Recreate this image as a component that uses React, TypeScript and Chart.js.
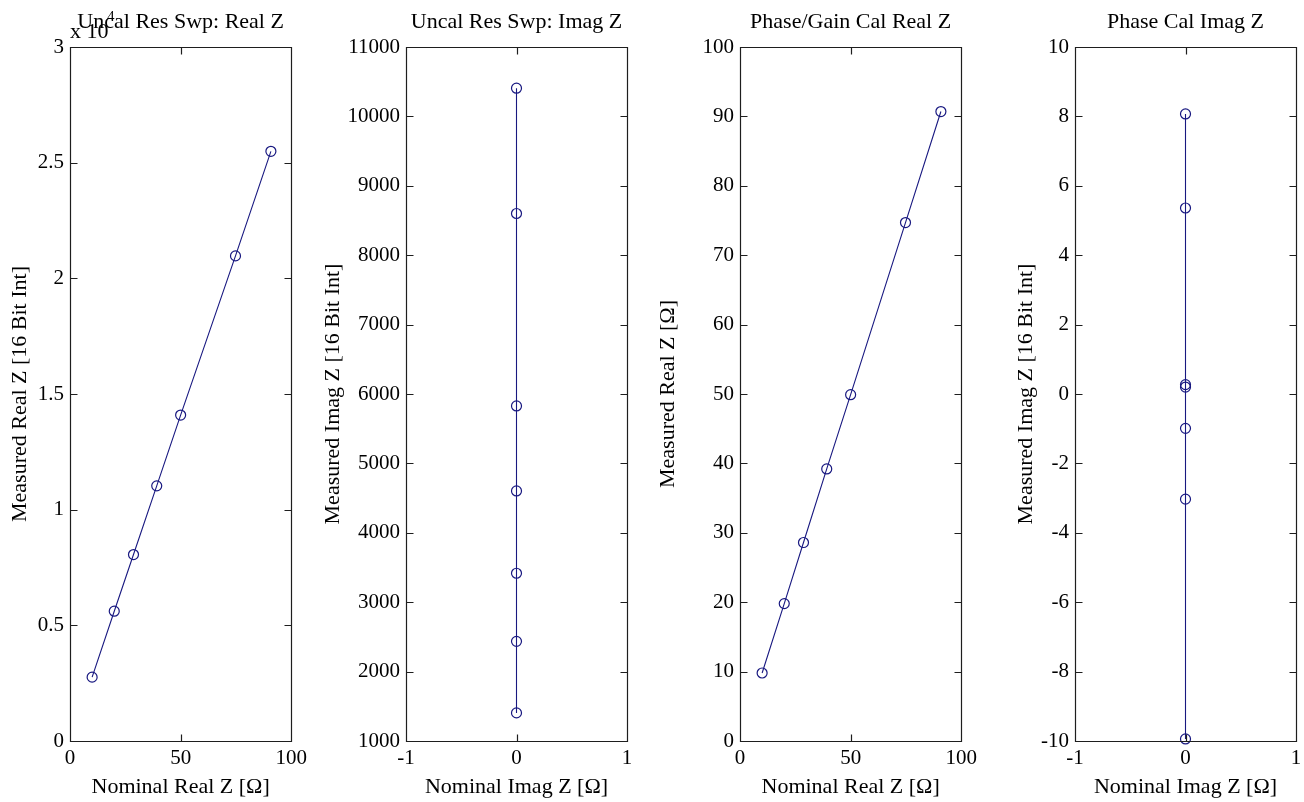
import React, { useEffect, useRef } from 'react';
import { Chart, registerables } from 'chart.js';

Chart.register(...registerables);

// ---------- data ----------
const nominalReal = [10, 20, 28.7, 39.2, 50, 74.8, 90.8];
const nominalImag = [0, 0, 0, 0, 0, 0, 0];
const uncalRealZ = [2760, 5610, 8060, 11030, 14090, 20970, 25490];
const uncalImagZ = [1405, 2436, 3417, 4603, 5828, 8601, 10406];
const calRealZ = [9.8, 19.8, 28.6, 39.2, 49.9, 74.7, 90.7];
const calImagZ = [-9.94, -3.03, -0.99, 0.2, 0.27, 5.36, 8.07];

const realXTicks = [0, 50, 100];
const imagXTicks = [-1, 0, 1];
const uncalRealYTicks = [0, 5000, 10000, 15000, 20000, 25000, 30000];
const uncalImagYTicks = [1000, 2000, 3000, 4000, 5000, 6000, 7000, 8000, 9000, 10000, 11000];
const calRealYTicks = [0, 10, 20, 30, 40, 50, 60, 70, 80, 90, 100];
const calImagYTicks = [-10, -8, -6, -4, -2, 0, 2, 4, 6, 8, 10];

const titles = [
  'Uncal Res Swp: Real Z',
  'Uncal Res Swp: Imag Z',
  'Phase/Gain Cal Real Z',
  'Phase Cal Imag Z',
];
const xLabels = ['Nominal Real Z [Ω]', 'Nominal Imag Z [Ω]', 'Nominal Real Z [Ω]', 'Nominal Imag Z [Ω]'];
const yLabels = [
  'Measured Real Z [16 Bit Int]',
  'Measured Imag Z [16 Bit Int]',
  'Measured Real Z [Ω]',
  'Measured Imag Z [16 Bit Int]',
];
const exponentPower = 4;

// ---------- layout / style ----------
const FONT = "'Liberation Serif', 'Times New Roman', Times, serif";
const LINE_COLOR = 'rgb(24, 24, 128)';
const H = 802;
const TOP = 47;
const X_AXIS_H = 61;
const LABEL_SIZE = 22;
const TICK_SIZE = 21;

type Layout = { plotLeft: number; plotRight: number; yTitleX: number };
const layouts: Layout[] = [
  { plotLeft: 70, plotRight: 292, yTitleX: 20 },
  { plotLeft: 406, plotRight: 627, yTitleX: 333 },
  { plotLeft: 740, plotRight: 962, yTitleX: 668 },
  { plotLeft: 1075, plotRight: 1296, yTitleX: 1026 },
];

type PanelDef = {
  title: string;
  xLabel: string;
  yLabel: string;
  xs: number[];
  ys: number[];
  xTicks: number[];
  yTicks: number[];
  yDiv: number;
  exponent: number | null;
  layout: Layout;
};

const panels: PanelDef[] = [
  { title: titles[0], xLabel: xLabels[0], yLabel: yLabels[0], xs: nominalReal, ys: uncalRealZ, xTicks: realXTicks, yTicks: uncalRealYTicks, yDiv: 10 ** exponentPower, exponent: exponentPower, layout: layouts[0] },
  { title: titles[1], xLabel: xLabels[1], yLabel: yLabels[1], xs: nominalImag, ys: uncalImagZ, xTicks: imagXTicks, yTicks: uncalImagYTicks, yDiv: 1, exponent: null, layout: layouts[1] },
  { title: titles[2], xLabel: xLabels[2], yLabel: yLabels[2], xs: nominalReal, ys: calRealZ, xTicks: realXTicks, yTicks: calRealYTicks, yDiv: 1, exponent: null, layout: layouts[2] },
  { title: titles[3], xLabel: xLabels[3], yLabel: yLabels[3], xs: nominalImag, ys: calImagZ, xTicks: imagXTicks, yTicks: calImagYTicks, yDiv: 1, exponent: null, layout: layouts[3] },
];

const panelText = {
  id: 'panelText',
  afterDraw(chart: any, _args: any, opts: any) {
    const { ctx, chartArea } = chart;
    ctx.save();
    ctx.fillStyle = '#000';
    ctx.textBaseline = 'alphabetic';
    if (opts.exponent != null) {
      ctx.textAlign = 'left';
      ctx.font = `${LABEL_SIZE}px ${FONT}`;
      ctx.fillText('x 10', chartArea.left, 38);
      ctx.font = `15px ${FONT}`;
      ctx.fillText(String(opts.exponent), chartArea.left + 37, 21);
    }
    ctx.textAlign = 'center';
    ctx.font = `${LABEL_SIZE}px ${FONT}`;
    ctx.fillText(opts.title, (chartArea.left + chartArea.right) / 2, 27.5);
    ctx.restore();
  },
};

const boxTicks = {
  id: 'boxTicks',
  afterDatasetsDraw(chart: any) {
    const { ctx, chartArea } = chart;
    const xs = chart.scales.x;
    const ys = chart.scales.y;
    const L = Math.round(chartArea.left) + 0.5;
    const R = Math.round(chartArea.right) + 0.5;
    const T = Math.round(chartArea.top) + 0.5;
    const B = Math.round(chartArea.bottom) + 0.5;
    const len = 7;
    ctx.save();
    ctx.strokeStyle = '#1e1e1e';
    ctx.lineWidth = 1.2;
    ctx.beginPath();
    ctx.rect(L, T, R - L, B - T);
    xs.ticks.forEach((t: any) => {
      const px = Math.round(xs.getPixelForValue(t.value)) + 0.5;
      ctx.moveTo(px, B);
      ctx.lineTo(px, B - len);
      ctx.moveTo(px, T);
      ctx.lineTo(px, T + len);
    });
    ys.ticks.forEach((t: any) => {
      const py = Math.round(ys.getPixelForValue(t.value)) + 0.5;
      ctx.moveTo(L, py);
      ctx.lineTo(L + len, py);
      ctx.moveTo(R, py);
      ctx.lineTo(R - len, py);
    });
    ctx.stroke();
    ctx.restore();
  },
};

function Panel({ def }: { def: PanelDef }) {
  const ref = useRef<HTMLCanvasElement>(null);
  const { layout } = def;
  const canvasLeft = layout.yTitleX - 15;
  const yAxisW = layout.plotLeft - canvasLeft;
  const rightPad = 20;
  const width = layout.plotRight + rightPad - canvasLeft;
  const yTitleLH = LABEL_SIZE * 1.2;

  useEffect(() => {
    if (!ref.current) return;
    const data = def.xs.map((x, i) => ({ x, y: def.ys[i] }));
    const chart = new Chart(ref.current, {
      type: 'scatter',
      data: {
        datasets: [
          {
            data,
            showLine: true,
            borderColor: LINE_COLOR,
            borderWidth: 1.1,
            pointStyle: 'circle',
            pointRadius: 5,
            pointBorderWidth: 1.2,
            pointBorderColor: LINE_COLOR,
            pointBackgroundColor: 'rgba(0,0,0,0)',
            clip: false as any,
          },
        ],
      },
      options: {
        responsive: false,
        animation: false,
        devicePixelRatio: 1,
        layout: { padding: { top: TOP, bottom: 0, left: 0, right: rightPad } },
        plugins: {
          legend: { display: false },
          tooltip: { enabled: false },
          title: { display: false },
          panelText: { title: def.title, exponent: def.exponent },
        } as any,
        scales: {
          x: {
            type: 'linear',
            min: def.xTicks[0],
            max: def.xTicks[def.xTicks.length - 1],
            grid: { display: false, drawTicks: false },
            border: { display: false },
            afterBuildTicks: (s: any) => {
              s.ticks = def.xTicks.map((v) => ({ value: v }));
            },
            afterFit: (s: any) => {
              s.height = X_AXIS_H;
            },
            ticks: {
              padding: 5,
              color: '#000',
              font: { family: FONT, size: TICK_SIZE },
              maxRotation: 0,
              autoSkip: false,
              callback: (v: any) => String(v),
            },
            title: {
              display: true,
              text: def.xLabel,
              color: '#000',
              font: { family: FONT, size: LABEL_SIZE },
              padding: { top: 0, bottom: 1.8 },
            },
          },
          y: {
            type: 'linear',
            min: def.yTicks[0],
            max: def.yTicks[def.yTicks.length - 1],
            grid: { display: false, drawTicks: false },
            border: { display: false },
            afterBuildTicks: (s: any) => {
              s.ticks = def.yTicks.map((v) => ({ value: v }));
            },
            afterFit: (s: any) => {
              s.width = yAxisW;
            },
            ticks: {
              padding: 6,
              color: '#000',
              font: { family: FONT, size: TICK_SIZE },
              autoSkip: false,
              callback: (v: any) => String(Math.round((Number(v) / def.yDiv) * 1000) / 1000),
            },
            title: {
              display: true,
              text: def.yLabel,
              color: '#000',
              font: { family: FONT, size: LABEL_SIZE },
              padding: { top: 15 - yTitleLH / 2, bottom: 0 },
            },
          },
        },
      },
      plugins: [panelText, boxTicks],
    });
    return () => chart.destroy();
  }, []);

  return (
    <canvas
      ref={ref}
      width={width}
      height={H}
      style={{ position: 'absolute', left: canvasLeft, top: 0, width, height: H }}
    />
  );
}

export default function App() {
  return (
    <div style={{ position: 'absolute', left: 0, top: 0, width: 1304, height: H, background: '#fff', overflow: 'hidden' }}>
      {panels.map((p, i) => (
        <Panel key={i} def={p} />
      ))}
    </div>
  );
}
